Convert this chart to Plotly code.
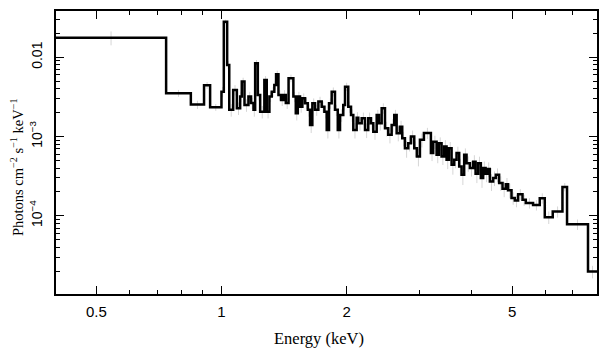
import numpy as np
import plotly.graph_objects as go

# Bin edges (keV)
edges = [0.400, 0.736, 0.844, 0.908, 0.939, 1.000, 1.013, 1.032, 1.044, 1.067,
         1.089, 1.109, 1.119, 1.136, 1.161, 1.178, 1.194, 1.205, 1.223, 1.239,
         1.268, 1.285, 1.304, 1.321, 1.340, 1.353, 1.371, 1.391, 1.409, 1.428,
         1.450, 1.489, 1.509, 1.526, 1.545, 1.565, 1.589, 1.613, 1.633, 1.654,
         1.679, 1.710, 1.742, 1.768, 1.791, 1.814, 1.841, 1.875, 1.904, 1.928,
         1.963, 1.982, 2.018, 2.049, 2.075, 2.114, 2.133, 2.174, 2.214, 2.254,
         2.288, 2.318, 2.362, 2.392, 2.428, 2.473, 2.518, 2.566, 2.603, 2.638,
         2.686, 2.721, 2.762, 2.813, 2.855, 2.908, 2.951, 3.001, 3.068, 3.189,
         3.230, 3.291, 3.333, 3.383, 3.432, 3.478, 3.523, 3.576, 3.628, 3.676,
         3.730, 3.779, 3.834, 3.885, 3.957, 4.030, 4.084, 4.143, 4.205, 4.259,
         4.316, 4.364, 4.420, 4.501, 4.569, 4.653, 4.741, 4.829, 4.890, 4.983,
         5.075, 5.169, 5.296, 5.393, 5.615, 5.827, 5.991, 6.261, 6.607, 6.777,
         7.611, 8.0]

# Flux per bin (photons cm^-2 s^-1 keV^-1)
flux = [0.01767, 3.52e-3, 2.53e-3, 4.43e-3, 2.34e-3, 3.68e-3, 0.0281, 8.0e-3, 2.17e-3, 3.87e-3,
        2.28e-3, 3.19e-3, 4.93e-3, 2.50e-3, 3.19e-3, 2.65e-3, 2.17e-3, 8.40e-3, 3.35e-3, 2.06e-3,
        5.17e-3, 2.06e-3, 3.19e-3, 3.68e-3, 4.47e-3, 6.11e-3, 3.35e-3, 2.89e-3, 3.35e-3, 2.65e-3,
        5.44e-3, 3.19e-3, 1.97e-3, 3.19e-3, 2.38e-3, 3.04e-3, 2.63e-3, 2.17e-3, 1.40e-3, 2.63e-3,
        2.17e-3, 2.76e-3, 2.38e-3, 2.06e-3, 1.21e-3, 2.63e-3, 3.68e-3, 2.17e-3, 1.21e-3, 1.87e-3,
        2.50e-3, 4.26e-3, 2.38e-3, 1.87e-3, 1.21e-3, 1.72e-3, 1.47e-3, 1.70e-3, 1.21e-3, 1.70e-3,
        1.47e-3, 1.15e-3, 1.87e-3, 1.47e-3, 2.28e-3, 1.27e-3, 1.05e-3, 1.40e-3, 1.87e-3, 1.10e-3,
        1.33e-3, 9.5e-4, 7.1e-4, 8.2e-4, 1.0e-3, 7.1e-4, 5.6e-4, 9.1e-4, 1.11e-3, 6.2e-4,
        8.6e-4, 5.9e-4, 8.2e-4, 5.6e-4, 7.5e-4, 5.1e-4, 7.1e-4, 4.4e-4, 5.1e-4, 6.2e-4,
        4.2e-4, 3.3e-4, 5.9e-4, 4.6e-4, 4.0e-4, 4.8e-4, 3.4e-4, 4.6e-4, 3.0e-4, 4.0e-4,
        3.4e-4, 3.9e-4, 2.7e-4, 3.0e-4, 3.3e-4, 2.6e-4, 2.2e-4, 2.5e-4, 2.1e-4, 1.68e-4,
        1.56e-4, 1.87e-4, 1.59e-4, 1.45e-4, 1.37e-4, 1.67e-4, 9.6e-5, 1.13e-4, 2.31e-4, 7.8e-5,
        1.98e-5]

# Relative 1-sigma errors per bin
err_rel = [0.20, 0.10, 0.12, 0.10, 0.10, 0.15, 0.06, 0.12, 0.18, 0.15,
           0.18, 0.15, 0.12, 0.18, 0.15, 0.16, 0.18, 0.10, 0.15, 0.18,
           0.12, 0.18, 0.15, 0.14, 0.12, 0.11, 0.15, 0.16, 0.15, 0.16,
           0.11, 0.15, 0.19, 0.15, 0.16, 0.15, 0.16, 0.18, 0.21, 0.15,
           0.16, 0.15, 0.16, 0.18, 0.22, 0.15, 0.13, 0.16, 0.22, 0.18,
           0.15, 0.12, 0.16, 0.18, 0.22, 0.18, 0.19, 0.18, 0.21, 0.18,
           0.19, 0.21, 0.16, 0.19, 0.15, 0.21, 0.22, 0.19, 0.16, 0.21,
           0.19, 0.21, 0.24, 0.21, 0.19, 0.22, 0.25, 0.20, 0.16, 0.21,
           0.19, 0.22, 0.19, 0.22, 0.20, 0.24, 0.20, 0.25, 0.22, 0.20,
           0.24, 0.26, 0.20, 0.22, 0.22, 0.21, 0.24, 0.21, 0.25, 0.21,
           0.22, 0.21, 0.24, 0.21, 0.20, 0.21, 0.22, 0.20, 0.21, 0.18,
           0.18, 0.16, 0.16, 0.15, 0.15, 0.15, 0.18, 0.16, 0.12, 0.15,
           0.18]

x_ticks = [0.5, 1, 2, 5]
x_ticktext = ["0.5", "1", "2", "5"]
x_minor = [0.6, 0.7, 0.8, 0.9, 3, 4, 6, 7, 8]
y_ticks = [1e-2, 1e-3, 1e-4]
y_ticktext = ["0.01", "10<sup>\u22123</sup>", "10<sup>\u22124</sup>"]
y_minor = [m * 10.0 ** e for e in (-5, -4, -3) for m in range(2, 10)] + [2e-2, 3e-2]

e = np.array(edges)
f = np.array(flux)
er = np.array(err_rel)
centers = np.sqrt(e[:-1] * e[1:])

fig = go.Figure()
fig.add_trace(go.Scatter(
    x=centers, y=f, mode="markers",
    marker=dict(size=1, color="rgba(0,0,0,0)"),
    error_y=dict(type="data", symmetric=False, array=f * er, arrayminus=f * er,
                 color="#d6d6d6", thickness=1, width=0),
    showlegend=False, hoverinfo="skip"))
fig.add_trace(go.Scatter(
    x=e, y=np.append(f, f[-1]), mode="lines", line_shape="hv",
    line=dict(color="black", width=2.5), showlegend=False))

# page coordinates of the plot box; the page body adds an 8 px offset
OFF = 8
PAGE_W, PAGE_H = 609, 357
box_l, box_r, box_t, box_b = 56, 597, 11, 294
W, H = PAGE_W - OFF, PAGE_H - OFF
L, T = box_l - OFF, box_t - OFF
R, B = PAGE_W - box_r, PAGE_H - box_b
pw, ph = box_r - box_l, box_b - box_t


def px_to_paper(xp, yp):
    return (xp - box_l) / pw, (box_b - yp) / ph


axis_common = dict(showline=True, linecolor="black", linewidth=1.5, mirror="ticks",
                   ticks="inside", ticklen=8, tickwidth=1.2, tickcolor="black",
                   showgrid=False, zeroline=False, automargin=False)

xt_x, xt_y = px_to_paper(319, 338)
yt_x, yt_y = px_to_paper(28, 167)

fig.update_layout(
    width=W, height=H, margin=dict(l=L, r=R, t=T, b=B, autoexpand=False),
    paper_bgcolor="white", plot_bgcolor="white",
    xaxis=dict(type="log", range=[np.log10(0.4), np.log10(8.0)],
               tickmode="array", tickvals=x_ticks, ticktext=x_ticktext,
               ticklabelstandoff=3,
               tickfont=dict(family="Liberation Sans", size=15, color="black"),
               minor=dict(tickmode="array", tickvals=x_minor, ticks="inside",
                          ticklen=4, tickwidth=1, tickcolor="black", showgrid=False),
               **axis_common),
    yaxis=dict(type="log", range=[-4.987, -1.416],
               tickmode="array", tickvals=y_ticks, ticktext=y_ticktext,
               tickangle=-90, ticklabelstandoff=7,
               tickfont=dict(family="Liberation Sans", size=14, color="black"),
               minor=dict(tickmode="array", tickvals=y_minor, ticks="inside",
                          ticklen=4, tickwidth=1, tickcolor="black", showgrid=False),
               **axis_common),
    annotations=[
        dict(text="Energy (keV)", xref="paper", yref="paper",
             x=xt_x, y=xt_y, xanchor="center", yanchor="middle",
             showarrow=False, font=dict(family="Liberation Serif", size=16.5, color="black")),
        dict(text="Photons cm<sup>\u22122</sup> s<sup>\u22121</sup> keV<sup>\u22121</sup>",
             xref="paper", yref="paper", textangle=-90,
             x=yt_x, y=yt_y, xanchor="right", yanchor="middle",
             showarrow=False, font=dict(family="Liberation Serif", size=14.5, color="black")),
    ],
)

fig.write_html("out.html")
